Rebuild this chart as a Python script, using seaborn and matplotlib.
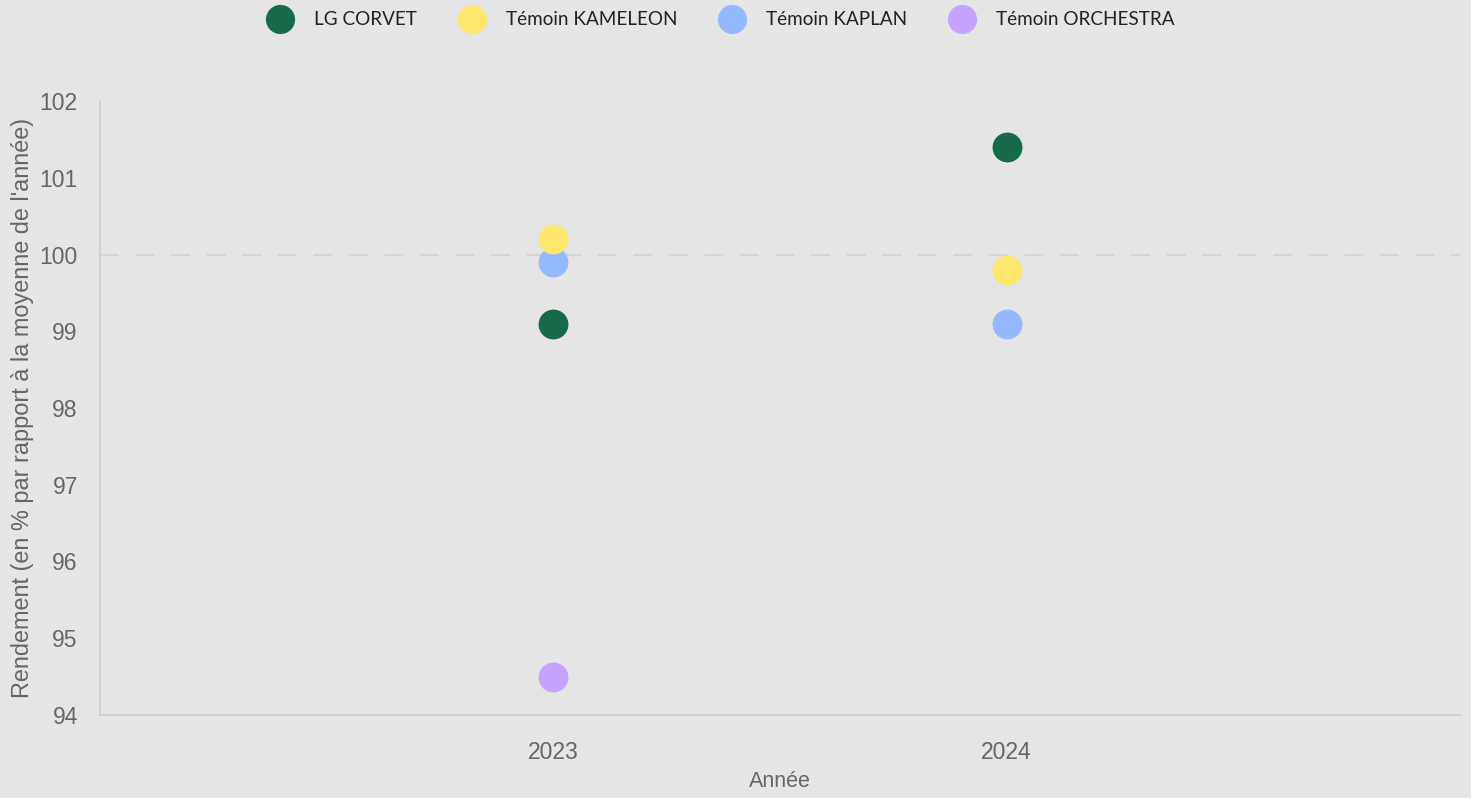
import matplotlib
matplotlib.use("Agg")
import matplotlib.pyplot as plt
from matplotlib.lines import Line2D
import seaborn as sns
import pandas as pd

years = ["2023", "2024"]
series = ["LG CORVET", "Témoin KAMELEON", "Témoin KAPLAN", "Témoin ORCHESTRA"]
colors = ["#176b4a", "#ffe66d", "#94b9ff", "#c5a3ff"]
lg_corvet = [99.1, 101.4]
kameleon = [100.2, 99.8]
kaplan = [99.9, 99.1]
orchestra = [94.5, None]
y_ticks = [94, 95, 96, 97, 98, 99, 100, 101, 102]

values = {"LG CORVET": lg_corvet, "Témoin KAMELEON": kameleon,
          "Témoin KAPLAN": kaplan, "Témoin ORCHESTRA": orchestra}
rows = []
for s in series:
    for yr, v in zip(years, values[s]):
        if v is not None:
            rows.append({"Année": yr, "val": v, "serie": s})
df = pd.DataFrame(rows)

sns.set_theme(style="white")
plt.rcParams["font.family"] = ["Liberation Sans", "DejaVu Sans"]
bg = "#e5e5e5"
fig = plt.figure(figsize=(14.71, 7.98), dpi=100, facecolor=bg)
ax = fig.add_axes([100/1471, 83/798, 1360/1471, 614/798], facecolor=bg)

pal = dict(zip(series, colors))
draw_order = ["LG CORVET", "Témoin KAPLAN", "Témoin KAMELEON", "Témoin ORCHESTRA"]
for i, s in enumerate(draw_order):
    sub = df[df["serie"] == s]
    sns.stripplot(data=sub, x="Année", y="val", order=years, color=pal[s],
                  jitter=False, size=21.5, linewidth=0, ax=ax, zorder=3 + i)

ax.axhline(100, color="#d4d4d4", lw=1.6, ls=(0, (8.5, 7.5)), zorder=1)
ax.set_xlim(-1, 2)
ax.set_ylim(94, 102)
ax.set_yticks(y_ticks)
ax.set_yticklabels([str(t) for t in y_ticks])
for sp in ["top", "right"]:
    ax.spines[sp].set_visible(False)
for sp in ["left", "bottom"]:
    ax.spines[sp].set_color("#cccccc")
    ax.spines[sp].set_linewidth(1.2)
ax.tick_params(axis="both", length=0, colors="#666666", labelsize=16.5)
ax.tick_params(axis="y", pad=16)
ax.tick_params(axis="x", pad=19)
ax.set_xlabel("Année", fontsize=15.5, color="#666666", labelpad=5)
ax.set_ylabel("Rendement (en % par rapport à la moyenne de l'année)",
              fontsize=16.9, color="#666666", labelpad=4)

handles = [Line2D([0], [0], marker="o", ls="", markersize=21, markerfacecolor=c,
                  markeredgewidth=0) for c in colors]
fig.legend(handles, series, loc="center", bbox_to_anchor=(0.4905, 0.975), ncol=4,
           frameon=False, prop={"family": "Lato", "size": 13.6}, labelcolor="#222222",
           handletextpad=1.2, columnspacing=2.25, handlelength=1.25)

fig.savefig("out.png", dpi=100, facecolor=bg)
